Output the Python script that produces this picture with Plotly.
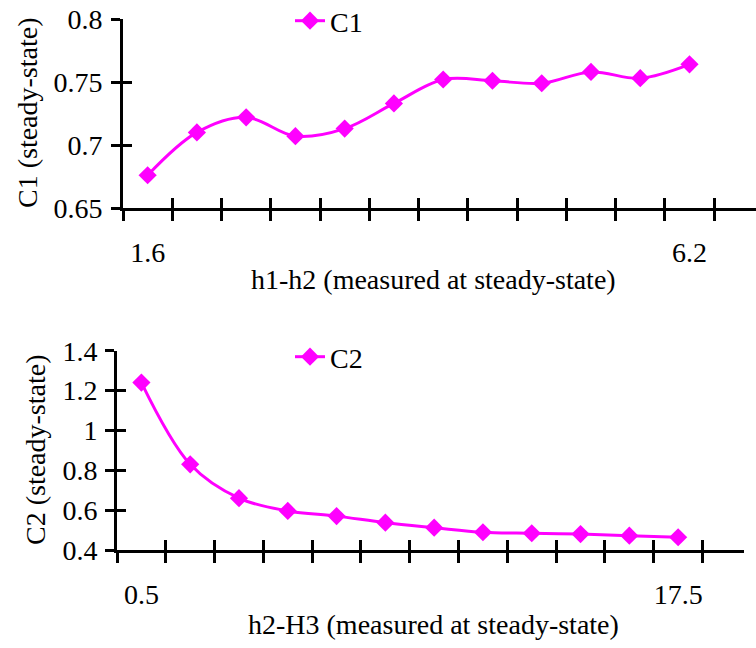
import plotly.graph_objects as go

# ---- data ----
sample_idx = list(range(1, 13))              # 12 category positions
c1_values = [0.676, 0.710, 0.722, 0.707, 0.713, 0.733,
             0.752, 0.751, 0.749, 0.758, 0.753, 0.764]
c2_values = [1.24, 0.83, 0.66, 0.596, 0.57, 0.537,
             0.512, 0.489, 0.484, 0.480, 0.472, 0.464]
top_label_pos = [1, 12]
top_labels = ["1.6", "6.2"]
bot_label_pos = [1, 12]
bot_labels = ["0.5", "17.5"]
boundary_ticks = [i + 0.5 for i in range(0, 13)]

W, H = 756, 648
FONT = "Liberation Serif, Times New Roman, serif"
FS = 28
MAG = "#FF00FF"

def px(x):
    return x / W

def py(y):
    return 1 - y / H

fig = go.Figure()

fig.add_trace(go.Scatter(
    x=sample_idx, y=c1_values, name="C1", mode="lines+markers",
    line=dict(color=MAG, width=3, shape="spline", smoothing=1),
    marker=dict(symbol="diamond", size=14, color=MAG),
    xaxis="x", yaxis="y", legend="legend"))

fig.add_trace(go.Scatter(
    x=sample_idx, y=c2_values, name="C2", mode="lines+markers",
    line=dict(color=MAG, width=3, shape="spline", smoothing=1),
    marker=dict(symbol="diamond", size=14, color=MAG),
    xaxis="x2", yaxis="y2", legend="legend2"))

# invisible helper traces so the overlay axes (crossing ticks / labels) are drawn
for xa, ya, vals in [("x3", "y", c1_values), ("x5", "y", c1_values),
                     ("x", "y3", c1_values),
                     ("x4", "y2", c2_values), ("x6", "y2", c2_values),
                     ("x2", "y4", c2_values)]:
    fig.add_trace(go.Scatter(x=sample_idx, y=vals, mode="lines", opacity=0,
                             line=dict(width=0), hoverinfo="skip",
                             showlegend=False, xaxis=xa, yaxis=ya))

xr = [0.5, 13.35]

top_xdom = [px(123), 1.0]
top_ydom = [py(208), py(19)]
bot_xdom = [px(117), px(744)]
bot_ydom = [py(550), py(350.7)]

tickfont = dict(family=FONT, size=FS, color="black")
common_x = dict(range=xr, showgrid=False, zeroline=False, fixedrange=True)

layout = dict(
    width=W, height=H,
    margin=dict(l=0, r=0, t=0, b=0, autoexpand=False),
    paper_bgcolor="white", plot_bgcolor="white",
    font=dict(family=FONT, size=FS, color="black"),
    xaxis=dict(domain=top_xdom, anchor="y", tickmode="array",
               tickvals=boundary_ticks, ticks="outside", ticklen=10,
               tickwidth=3, tickcolor="black", showticklabels=False,
               showline=True, linewidth=3, linecolor="black", **common_x),
    xaxis3=dict(overlaying="x", anchor="y", side="bottom", tickmode="array",
                tickvals=boundary_ticks, ticks="inside", ticklen=10,
                tickwidth=3, tickcolor="black", showticklabels=False,
                showline=False, **common_x),
    xaxis5=dict(overlaying="x", anchor="y", side="bottom", tickmode="array",
                tickvals=top_label_pos, ticktext=top_labels, ticks="",
                showticklabels=True, tickfont=tickfont, ticklabelstandoff=25,
                showline=False, **common_x),
    yaxis=dict(domain=top_ydom, anchor="x", range=[0.65, 0.8],
               tickmode="array", tickvals=[0.65, 0.7, 0.75, 0.8],
               ticktext=["0.65", "0.7", "0.75", "0.8"],
               ticks="outside", ticklen=9, tickwidth=3, tickcolor="black",
               tickfont=tickfont, ticklabelstandoff=3, showline=True,
               linewidth=3, linecolor="black", showgrid=False,
               zeroline=False, fixedrange=True),
    yaxis3=dict(overlaying="y", anchor="x", side="left", range=[0.65, 0.8],
                tickmode="array", tickvals=[0.65, 0.7, 0.75, 0.8],
                ticks="inside", ticklen=9, tickwidth=3, tickcolor="black",
                showticklabels=False, showline=False, showgrid=False,
                zeroline=False, fixedrange=True),
    xaxis2=dict(domain=bot_xdom, anchor="y2", tickmode="array",
                tickvals=boundary_ticks, ticks="outside", ticklen=10,
                tickwidth=3, tickcolor="black", showticklabels=False,
                showline=True, linewidth=3, linecolor="black", **common_x),
    xaxis4=dict(overlaying="x2", anchor="y2", side="bottom", tickmode="array",
                tickvals=boundary_ticks, ticks="inside", ticklen=10,
                tickwidth=3, tickcolor="black", showticklabels=False,
                showline=False, **common_x),
    xaxis6=dict(overlaying="x2", anchor="y2", side="bottom", tickmode="array",
                tickvals=bot_label_pos, ticktext=bot_labels, ticks="",
                showticklabels=True, tickfont=tickfont, ticklabelstandoff=25,
                showline=False, **common_x),
    yaxis2=dict(domain=bot_ydom, anchor="x2", range=[0.4, 1.4],
                tickmode="array", tickvals=[0.4, 0.6, 0.8, 1.0, 1.2, 1.4],
                ticktext=["0.4", "0.6", "0.8", "1", "1.2", "1.4"],
                ticks="outside", ticklen=9, tickwidth=3, tickcolor="black",
                tickfont=tickfont, ticklabelstandoff=2, showline=True,
                linewidth=3, linecolor="black", showgrid=False,
                zeroline=False, fixedrange=True),
    yaxis4=dict(overlaying="y2", anchor="x2", side="left", range=[0.4, 1.4],
                tickmode="array", tickvals=[0.4, 0.6, 0.8, 1.0, 1.2, 1.4],
                ticks="inside", ticklen=9, tickwidth=3, tickcolor="black",
                showticklabels=False, showline=False, showgrid=False,
                zeroline=False, fixedrange=True),
    legend=dict(x=px(290), y=py(21), xanchor="left", yanchor="middle",
                bgcolor="rgba(0,0,0,0)", font=dict(family=FONT, size=FS),
                borderwidth=0),
    legend2=dict(x=px(290), y=py(357), xanchor="left", yanchor="middle",
                 bgcolor="rgba(0,0,0,0)", font=dict(family=FONT, size=FS),
                 borderwidth=0),
    showlegend=True,
    annotations=[
        dict(text="h1-h2 (measured at steady-state)", xref="paper",
             yref="paper", x=px(433), y=py(279), xanchor="center",
             yanchor="middle", showarrow=False,
             font=dict(family=FONT, size=FS)),
        dict(text="C1 (steady-state)", xref="paper", yref="paper",
             x=px(27), y=py(113), xanchor="center", yanchor="middle",
             textangle=-90, showarrow=False,
             font=dict(family=FONT, size=FS)),
        dict(text="h2-H3 (measured at steady-state)", xref="paper",
             yref="paper", x=px(433), y=py(624), xanchor="center",
             yanchor="middle", showarrow=False,
             font=dict(family=FONT, size=FS)),
        dict(text="C2 (steady-state)", xref="paper", yref="paper",
             x=px(35), y=py(450), xanchor="center", yanchor="middle",
             textangle=-90, showarrow=False,
             font=dict(family=FONT, size=FS)),
    ],
)

fig.update_layout(**layout)
fig.write_html("out.html")
